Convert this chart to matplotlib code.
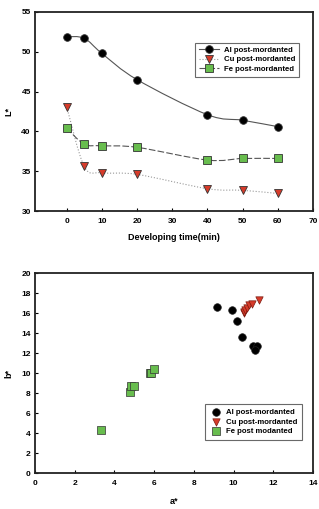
import numpy as np
import matplotlib.pyplot as plt
from matplotlib.path import Path
from matplotlib.patches import PathPatch
from matplotlib.lines import Line2D

plt.rcParams['font.family'] = ['Liberation Sans', 'DejaVu Sans']
plt.rcParams['font.weight'] = 'bold'
plt.rcParams['axes.labelweight'] = 'bold'

# DATA ------------------------------------------------------------------------
time_min = [0, 5, 10, 20, 40, 50, 60]
L_al = [51.9, 51.7, 49.8, 46.5, 42.1, 41.4, 40.6]
L_cu = [43.1, 35.6, 34.8, 34.6, 32.8, 32.6, 32.2]
L_fe = [40.4, 38.4, 38.2, 38.0, 36.4, 36.6, 36.6]

a_al = [9.15, 9.9, 10.15, 10.4, 11.0, 11.2, 11.1]
b_al = [16.65, 16.3, 15.25, 13.65, 12.75, 12.75, 12.35]
a_cu = [10.55, 10.5, 10.6, 10.7, 10.8, 10.95, 11.3]
b_cu = [16.0, 16.1, 16.3, 16.5, 16.8, 16.9, 17.3]
a_fe = [3.3, 4.8, 4.85, 5.0, 5.8, 5.85, 6.0]
b_fe = [4.3, 8.15, 8.7, 8.7, 10.0, 10.0, 10.45]

red = '#d63b2a'
green = '#68bd4e'


def smooth_path(x, y):
    # Catmull-Rom style bezier through the data points
    x = np.asarray(x, float)
    y = np.asarray(y, float)
    verts = [(x[0], y[0])]
    codes = [Path.MOVETO]
    n = len(x)
    for i in range(n - 1):
        x0, y0 = (x[i - 1], y[i - 1]) if i > 0 else (x[i], y[i])
        x3, y3 = (x[i + 2], y[i + 2]) if i + 2 < n else (x[i + 1], y[i + 1])
        c1 = (x[i] + (x[i + 1] - x0) / 6, y[i] + (y[i + 1] - y0) / 6)
        c2 = (x[i + 1] - (x3 - x[i]) / 6, y[i + 1] - (y3 - y[i]) / 6)
        verts += [c1, c2, (x[i + 1], y[i + 1])]
        codes += [Path.CURVE4] * 3
    return Path(verts, codes)


fig = plt.figure(figsize=(3.19, 5.09), dpi=100)
ax1 = fig.add_axes([35 / 319, 1 - 211 / 509, 278 / 319, 199 / 509])
ax2 = fig.add_axes([35 / 319, 1 - 473 / 509, 278 / 319, 200 / 509])

# top panel
series = [(L_al, 'k', '#555555', '-', 'o', 'Al post-mordanted'),
          (L_cu, red, '#999999', ':', 'v', 'Cu post-mordanted'),
          (L_fe, green, '#555555', (0, (6, 2)), 's', 'Fe post-mordanted')]
handles = []
for vals, mc, lc, ls, mk, lab in series:
    ax1.add_patch(PathPatch(smooth_path(time_min, vals), fill=False, edgecolor=lc,
                            linestyle=ls, linewidth=0.8, zorder=2))
    ax1.plot(time_min, vals, linestyle='none', marker=mk, markersize=5.5,
             markerfacecolor=mc, markeredgecolor='#333333', markeredgewidth=0.6, zorder=3)
    handles.append(Line2D([], [], color=lc, linestyle=ls, linewidth=0.8, marker=mk,
                          markersize=5.5, markerfacecolor=mc,
                          markeredgecolor='#333333', markeredgewidth=0.6, label=lab))

ax1.set_xlim(-9, 70)
ax1.set_ylim(30, 55)
ax1.set_xticks(range(0, 71, 10))
ax1.set_yticks(range(30, 56, 5))
ax1.set_xlabel('Developing time(min)', fontsize=6.5, labelpad=6)
ax1.set_ylabel('L*', fontsize=6.5, labelpad=6)
leg1 = ax1.legend(handles=handles, loc='upper right', bbox_to_anchor=(0.963, 0.865),
                  fontsize=5.6, frameon=True, fancybox=False, edgecolor='#444444',
                  handlelength=2.6, borderpad=0.5, labelspacing=0.25, handletextpad=0.6)
leg1.get_frame().set_linewidth(0.8)

# bottom panel
ax2.scatter(a_al, b_al, s=30, marker='o', c='k', edgecolors='#222222', linewidths=0.5,
            label='Al post-mordanted', zorder=3)
ax2.scatter(a_cu, b_cu, s=28, marker='v', c=red, edgecolors='#7a1a10', linewidths=0.5,
            label='Cu post-mordanted', zorder=3)
ax2.scatter(a_fe, b_fe, s=26, marker='s', c=green, edgecolors='#333333', linewidths=0.5,
            label='Fe post modanted', zorder=3)
ax2.set_xlim(0, 14)
ax2.set_ylim(0, 20)
ax2.set_xticks(range(0, 15, 2))
ax2.set_yticks(range(0, 21, 2))
ax2.set_xlabel('a*', fontsize=6.5, labelpad=7)
ax2.set_ylabel('b*', fontsize=6.5, labelpad=6)
leg2 = ax2.legend(loc='lower right', bbox_to_anchor=(0.975, 0.145), fontsize=5.6,
                  frameon=True, fancybox=False, edgecolor='#444444', handlelength=1.5,
                  borderpad=0.6, labelspacing=0.3, handletextpad=0.6, scatterpoints=1)
leg2.get_frame().set_linewidth(0.8)

for ax in (ax1, ax2):
    for sp in ax.spines.values():
        sp.set_linewidth(1.3)
        sp.set_color('#222222')
    ax.tick_params(labelsize=6, width=0.8, length=2.5, direction='in')
    ax.tick_params(axis='x', pad=5)
    ax.tick_params(axis='y', pad=3)
    for t in ax.get_xticklabels() + ax.get_yticklabels():
        t.set_fontweight('bold')

fig.savefig('out.png', dpi=100)
